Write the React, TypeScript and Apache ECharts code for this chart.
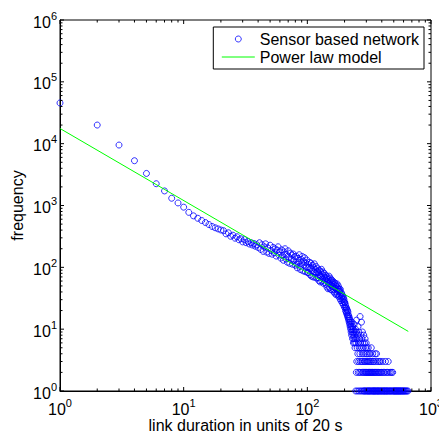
import React, { useEffect, useRef } from 'react';
import * as echarts from 'echarts';

const FONT = '"Liberation Sans", Arial, Helvetica, sans-serif';

// Observed frequency per link duration (consecutive durations from the segment start)
const seg1to20 = [45500, 20000, 9500, 5300, 3300, 2250, 1720, 1310, 1100, 940, 775, 680, 622, 572, 530, 492, 458, 436, 418, 402];
const seg21to40 = [392, 348, 362, 318, 331, 296, 312, 279, 290, 258, 281, 250, 262, 238, 251, 229, 243, 219, 232, 210];
const seg41to60 = [250, 195, 232, 181, 214, 240, 176, 205, 168, 228, 187, 163, 210, 172, 199, 152, 190, 215, 158, 178];
const seg61to80 = [141, 192, 155, 130, 178, 200, 137, 161, 121, 185, 146, 116, 170, 134, 158, 112, 164, 128, 148, 108];
const seg81to100 = [152, 113, 98, 140, 121, 160, 104, 92, 135, 117, 150, 88, 126, 109, 143, 85, 119, 100, 131, 83];
const seg101to120 = [112, 82, 100, 121, 76, 95, 117, 72, 88, 108, 70, 99, 84, 114, 69, 92, 80, 103, 67, 86];
const seg121to140 = [95, 68, 82, 61, 90, 74, 58, 86, 71, 93, 60, 78, 66, 84, 55, 73, 80, 57, 69, 62];
const seg141to160 = [74, 53, 66, 48, 70, 59, 45, 64, 55, 72, 47, 58, 67, 44, 61, 52, 63, 43, 56, 49];
const seg161to180 = [60, 44, 53, 40, 57, 47, 38, 55, 45, 51, 36, 49, 43, 54, 37, 46, 41, 50, 34, 44];
const seg181to200 = [45, 35, 41, 31, 44, 36, 29, 39, 33, 37, 27, 35, 30, 34, 25, 32, 28, 30, 23, 27];
const seg201to245 = [27, 22, 25, 20, 23, 19, 22, 18, 21, 17, 20, 16, 19, 15, 17, 14, 16, 13, 15, 12, 14, 11, 13, 10, 12, 9, 11, 8, 10, 13, 9, 7, 11, 8, 10, 6, 9, 7, 12, 8, 6, 9, 5, 7, 10];
const seg246to300 = [1, 6, 9, 2, 14, 3, 7, 5, 1, 8, 4, 11, 2, 6, 3, 9, 1, 5, 7, 2, 4, 16, 3, 6, 1, 8, 2, 5, 13, 3, 7, 1, 4, 9, 2, 6, 3, 1, 5, 2, 8, 4, 1, 3, 6, 2, 1, 7, 3, 5, 2, 1, 4, 6, 2];

const segments: [number, number[]][] = [
  [1, seg1to20], [21, seg21to40], [41, seg41to60], [61, seg61to80], [81, seg81to100],
  [101, seg101to120], [121, seg121to140], [141, seg141to160], [161, seg161to180],
  [181, seg181to200], [201, seg201to245], [246, seg246to300],
];

// Sparse tail: [duration, frequency]
const tailPoints: [number, number][] = [
  [301, 3], [302, 1], [303, 5], [304, 2], [305, 4], [306, 1], [307, 3], [309, 2], [310, 1], [311, 5],
  [312, 2], [313, 3], [314, 1], [316, 4], [317, 2], [318, 1], [319, 3], [321, 2], [322, 1], [323, 4],
  [325, 2], [326, 3], [327, 1], [329, 5], [330, 2], [332, 1], [333, 3], [335, 2], [336, 1], [338, 4],
  [339, 2], [341, 1], [342, 3], [344, 1], [345, 2], [347, 3], [348, 1], [350, 2], [352, 1], [354, 4],
  [355, 2], [357, 1], [358, 3], [360, 1], [361, 2], [363, 4],
  [366, 1], [368, 2], [370, 1], [372, 3], [374, 1], [375, 2], [378, 1], [380, 2], [382, 3], [384, 1],
  [387, 2], [389, 1], [391, 3], [394, 1], [396, 2], [399, 1], [402, 2], [404, 1], [407, 3], [410, 1],
  [413, 2], [416, 1], [419, 1], [422, 2], [425, 1], [428, 3], [431, 1], [434, 2], [438, 1], [441, 1],
  [444, 2], [447, 1], [451, 3], [454, 1],
  [458, 2], [462, 1], [466, 1], [470, 2], [474, 1], [478, 1], [482, 2], [486, 1], [490, 2],
  [495, 1], [500, 1], [506, 1], [511, 1], [517, 1], [523, 1], [528, 1], [534, 1], [541, 1], [547, 1],
  [553, 1], [560, 1], [566, 1], [573, 1], [580, 1], [588, 1], [596, 1], [603, 1], [611, 1], [620, 1],
  [629, 1], [640, 1], [652, 1],
];

// Power law model endpoints
const modelX = [1, 655];
const modelY = [17600, 9.2];

// Axis ticks
const xMajor = [1, 10, 100, 1000];
const yMajor = [1, 10, 100, 1000, 10000, 100000, 1000000];
const minorMult = [2, 3, 4, 5, 6, 7, 8, 9];

const scatterData: [number, number][] = [];
segments.forEach(([start, arr]) => arr.forEach((f, i) => scatterData.push([start + i, f])));
tailPoints.forEach((p) => scatterData.push(p));

const tickList = (majors: number[]) => {
  const out: [number, number][] = [];
  majors.forEach((m, i) => {
    out.push([m, 4]);
    if (i < majors.length - 1) minorMult.forEach((k) => out.push([m * k, 2.5]));
  });
  return out;
};

const powLabel = (v: number) => `{b|10}{s|${Math.round(Math.log10(v))}}`;
const rich = {
  b: { fontSize: 16, fontFamily: FONT, color: '#000', verticalAlign: 'bottom' },
  s: { fontSize: 11, fontFamily: FONT, color: '#000', verticalAlign: 'bottom', padding: [0, 0, 9, 0] },
};

const lineStyleTick = { stroke: '#000', lineWidth: 1 };

const option: any = {
  animation: false,
  backgroundColor: '#fff',
  grid: {
    left: 60, right: 8, top: 20, bottom: 41,
    containLabel: false, outerBoundsMode: 'none',
    show: true, borderColor: '#000', borderWidth: 1, backgroundColor: 'transparent',
  },
  legend: {
    orient: 'vertical',
    right: 15,
    top: 27,
    padding: [4, 5, 4, 8],
    itemGap: 2,
    itemWidth: 33,
    itemHeight: 6,
    borderColor: '#000',
    borderWidth: 1,
    borderRadius: 0,
    backgroundColor: '#fff',
    textStyle: { fontSize: 16, fontFamily: FONT, color: '#000' },
    data: [
      { name: 'Sensor based network', icon: 'circle', itemStyle: { color: 'rgba(0,0,0,0)', borderColor: '#0000ff', borderWidth: 1 } },
      { name: 'Power law model', itemStyle: { color: 'rgba(0,0,0,0)', borderColor: 'rgba(0,0,0,0)', borderWidth: 0 }, lineStyle: { color: '#00ff00', width: 1 } },
    ],
  },
  xAxis: {
    type: 'log',
    logBase: 10,
    min: 1,
    max: 1000,
    interval: 1,
    name: 'link duration in units of 20 s',
    nameLocation: 'middle',
    nameGap: 26,
    nameMoveOverlap: false,
    nameTextStyle: { fontSize: 16, fontFamily: FONT, color: '#000' },
    axisLine: { show: true, lineStyle: { color: '#000', width: 1 } },
    axisTick: { show: false },
    splitLine: { show: false },
    axisLabel: { margin: 6, formatter: powLabel, rich, color: '#000' },
  },
  yAxis: {
    type: 'log',
    logBase: 10,
    min: 1,
    max: 1000000,
    interval: 1,
    name: 'frequency',
    nameLocation: 'middle',
    nameGap: 35,
    nameMoveOverlap: false,
    nameTextStyle: { fontSize: 16, fontFamily: FONT, color: '#000' },
    axisLine: { show: true, lineStyle: { color: '#000', width: 1 } },
    axisTick: { show: false },
    splitLine: { show: false },
    axisLabel: { margin: 3, formatter: powLabel, rich, color: '#000' },
  },
  series: [
    {
      name: 'Sensor based network',
      type: 'scatter',
      data: scatterData,
      symbol: 'circle',
      symbolSize: 6,
      clip: false,
      itemStyle: { color: 'rgba(0,0,0,0)', borderColor: '#0000ff', borderWidth: 1 },
      emphasis: { disabled: true },
      z: 2,
    },
    {
      name: 'Power law model',
      type: 'line',
      data: modelX.map((x, i) => [x, modelY[i]]),
      symbol: 'none',
      showSymbol: false,
      lineStyle: { color: '#00ff00', width: 1 },
      itemStyle: { color: '#00ff00' },
      z: 3,
    },
    {
      type: 'custom',
      silent: true,
      z: 4,
      data: tickList(xMajor).map(([v, len]) => [v, 1, len]),
      renderItem: (params: any, api: any) => {
        const p = api.coord([api.value(0), 1]);
        const cs = params.coordSys;
        const len = api.value(2);
        const bottom = cs.y + cs.height;
        return {
          type: 'group',
          children: [
            { type: 'line', shape: { x1: p[0], y1: bottom, x2: p[0], y2: bottom - len }, style: lineStyleTick },
            { type: 'line', shape: { x1: p[0], y1: cs.y, x2: p[0], y2: cs.y + len }, style: lineStyleTick },
          ],
        };
      },
    },
    {
      type: 'custom',
      silent: true,
      z: 4,
      data: tickList(yMajor).map(([v, len]) => [1, v, len]),
      renderItem: (params: any, api: any) => {
        const p = api.coord([1, api.value(1)]);
        const cs = params.coordSys;
        const len = api.value(2);
        const right = cs.x + cs.width;
        return {
          type: 'group',
          children: [
            { type: 'line', shape: { x1: cs.x, y1: p[1], x2: cs.x + len, y2: p[1] }, style: lineStyleTick },
            { type: 'line', shape: { x1: right, y1: p[1], x2: right - len, y2: p[1] }, style: lineStyleTick },
          ],
        };
      },
    },
  ],
};

export default function App() {
  const ref = useRef<HTMLDivElement>(null);
  useEffect(() => {
    const chart = echarts.init(ref.current as HTMLDivElement, null, { renderer: 'svg' });
    chart.setOption(option);
    return () => chart.dispose();
  }, []);
  return (
    <div
      ref={ref}
      style={{ position: 'fixed', left: 0, top: 0, width: 439, height: 432, background: '#fff' }}
    />
  );
}
